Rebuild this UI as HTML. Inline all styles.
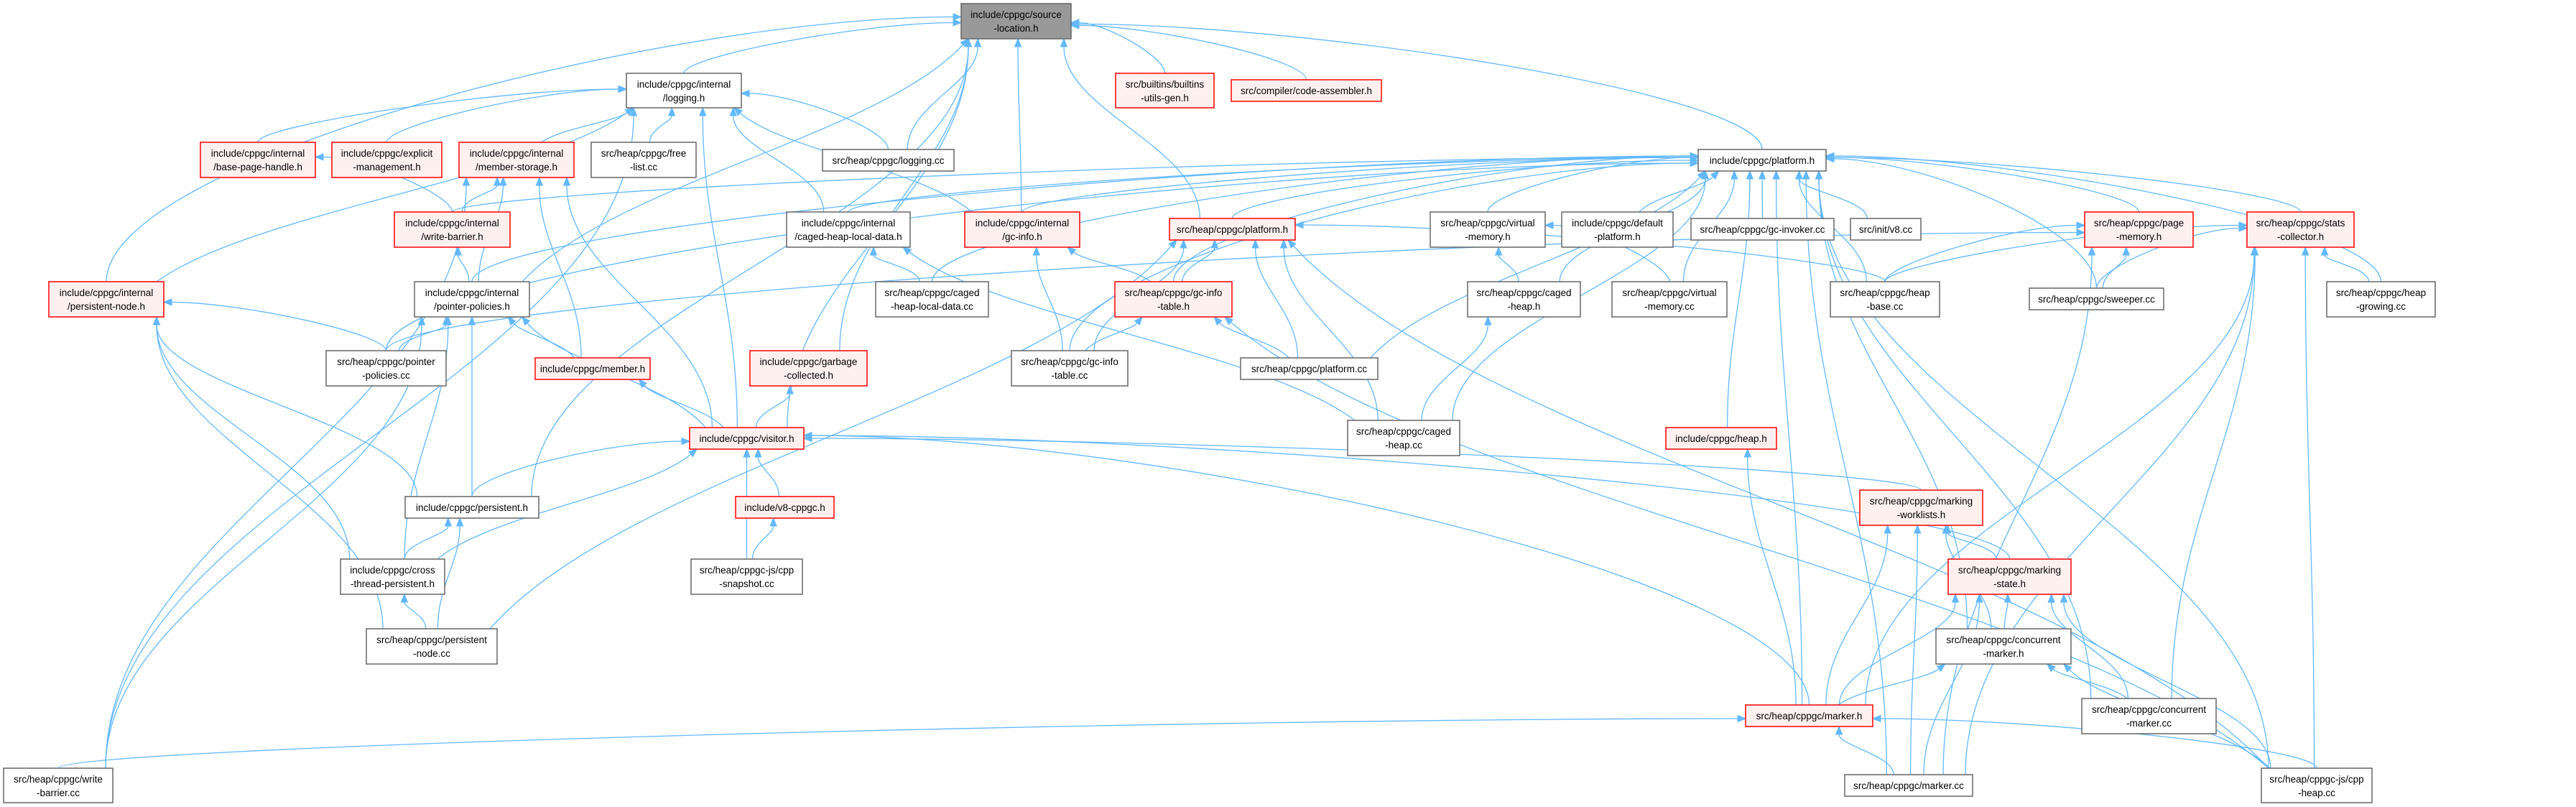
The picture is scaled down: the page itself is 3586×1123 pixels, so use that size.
<!DOCTYPE html>
<html><head><meta charset="utf-8">
<style>
html,body{margin:0;padding:0;background:#fff;}
svg{display:block;}
text{font-family:"Liberation Sans",sans-serif;font-size:13.5px;fill:#000;}
</style></head>
<body>
<svg id="g" width="3586" height="1123" viewBox="0 0 3586 1123" xmlns="http://www.w3.org/2000/svg">
<g id="edges" fill="none" stroke="#63b8ff" stroke-width="1.3"></g>
<g id="heads" fill="#63b8ff" stroke="#63b8ff"></g>
<g id="nodes" stroke-width="1.5">
<rect x="1338" y="5" width="153" height="49" fill="#999999" stroke="#666666"/><text x="1414.5" y="25" text-anchor="middle">include/cppgc/source</text><text x="1414.5" y="44" text-anchor="middle">-location.h</text>
<rect x="872" y="102" width="160" height="48" fill="#fff" stroke="#666666"/><text x="952" y="122" text-anchor="middle">include/cppgc/internal</text><text x="952" y="141" text-anchor="middle">/logging.h</text>
<rect x="1553" y="102" width="137" height="48" fill="#fff0f0" stroke="#ff0000"/><text x="1621.5" y="122" text-anchor="middle">src/builtins/builtins</text><text x="1621.5" y="141" text-anchor="middle">-utils-gen.h</text>
<rect x="1714" y="111" width="209" height="30" fill="#fff0f0" stroke="#ff0000"/><text x="1818.5" y="131" text-anchor="middle">src/compiler/code-assembler.h</text>
<rect x="279" y="198" width="160" height="49" fill="#fff0f0" stroke="#ff0000"/><text x="359" y="218" text-anchor="middle">include/cppgc/internal</text><text x="359" y="237" text-anchor="middle">/base-page-handle.h</text>
<rect x="462" y="198" width="153" height="49" fill="#fff0f0" stroke="#ff0000"/><text x="538.5" y="218" text-anchor="middle">include/cppgc/explicit</text><text x="538.5" y="237" text-anchor="middle">-management.h</text>
<rect x="639" y="198" width="160" height="49" fill="#fff0f0" stroke="#ff0000"/><text x="719" y="218" text-anchor="middle">include/cppgc/internal</text><text x="719" y="237" text-anchor="middle">/member-storage.h</text>
<rect x="823" y="198" width="146" height="49" fill="#fff" stroke="#666666"/><text x="896" y="218" text-anchor="middle">src/heap/cppgc/free</text><text x="896" y="237" text-anchor="middle">-list.cc</text>
<rect x="1145" y="208" width="183" height="30" fill="#fff" stroke="#666666"/><text x="1236.5" y="228" text-anchor="middle">src/heap/cppgc/logging.cc</text>
<rect x="2364" y="208" width="178" height="30" fill="#fff" stroke="#666666"/><text x="2453" y="228" text-anchor="middle">include/cppgc/platform.h</text>
<rect x="549" y="295" width="161" height="49" fill="#fff0f0" stroke="#ff0000"/><text x="629.5" y="315" text-anchor="middle">include/cppgc/internal</text><text x="629.5" y="334" text-anchor="middle">/write-barrier.h</text>
<rect x="1095" y="295" width="172" height="49" fill="#fff" stroke="#666666"/><text x="1181" y="315" text-anchor="middle">include/cppgc/internal</text><text x="1181" y="334" text-anchor="middle">/caged-heap-local-data.h</text>
<rect x="1343" y="295" width="160" height="49" fill="#fff0f0" stroke="#ff0000"/><text x="1423" y="315" text-anchor="middle">include/cppgc/internal</text><text x="1423" y="334" text-anchor="middle">/gc-info.h</text>
<rect x="1628" y="304" width="175" height="30" fill="#fff0f0" stroke="#ff0000"/><text x="1715.5" y="324" text-anchor="middle">src/heap/cppgc/platform.h</text>
<rect x="1991" y="295" width="160" height="49" fill="#fff" stroke="#666666"/><text x="2071" y="315" text-anchor="middle">src/heap/cppgc/virtual</text><text x="2071" y="334" text-anchor="middle">-memory.h</text>
<rect x="2174" y="295" width="155" height="49" fill="#fff" stroke="#666666"/><text x="2251.5" y="315" text-anchor="middle">include/cppgc/default</text><text x="2251.5" y="334" text-anchor="middle">-platform.h</text>
<rect x="2354" y="304" width="199" height="30" fill="#fff" stroke="#666666"/><text x="2453.5" y="324" text-anchor="middle">src/heap/cppgc/gc-invoker.cc</text>
<rect x="2576" y="304" width="98" height="30" fill="#fff" stroke="#666666"/><text x="2625" y="324" text-anchor="middle">src/init/v8.cc</text>
<rect x="2902" y="295" width="151" height="49" fill="#fff0f0" stroke="#ff0000"/><text x="2977.5" y="315" text-anchor="middle">src/heap/cppgc/page</text><text x="2977.5" y="334" text-anchor="middle">-memory.h</text>
<rect x="3128" y="295" width="149" height="49" fill="#fff0f0" stroke="#ff0000"/><text x="3202.5" y="315" text-anchor="middle">src/heap/cppgc/stats</text><text x="3202.5" y="334" text-anchor="middle">-collector.h</text>
<rect x="68" y="392" width="160" height="49" fill="#fff0f0" stroke="#ff0000"/><text x="148" y="412" text-anchor="middle">include/cppgc/internal</text><text x="148" y="431" text-anchor="middle">/persistent-node.h</text>
<rect x="577" y="392" width="160" height="49" fill="#fff" stroke="#666666"/><text x="657" y="412" text-anchor="middle">include/cppgc/internal</text><text x="657" y="431" text-anchor="middle">/pointer-policies.h</text>
<rect x="1219" y="392" width="157" height="49" fill="#fff" stroke="#666666"/><text x="1297.5" y="412" text-anchor="middle">src/heap/cppgc/caged</text><text x="1297.5" y="431" text-anchor="middle">-heap-local-data.cc</text>
<rect x="1552" y="392" width="163" height="49" fill="#fff0f0" stroke="#ff0000"/><text x="1633.5" y="412" text-anchor="middle">src/heap/cppgc/gc-info</text><text x="1633.5" y="431" text-anchor="middle">-table.h</text>
<rect x="2043" y="392" width="157" height="49" fill="#fff" stroke="#666666"/><text x="2121.5" y="412" text-anchor="middle">src/heap/cppgc/caged</text><text x="2121.5" y="431" text-anchor="middle">-heap.h</text>
<rect x="2244" y="392" width="160" height="49" fill="#fff" stroke="#666666"/><text x="2324" y="412" text-anchor="middle">src/heap/cppgc/virtual</text><text x="2324" y="431" text-anchor="middle">-memory.cc</text>
<rect x="2548" y="392" width="152" height="49" fill="#fff" stroke="#666666"/><text x="2624" y="412" text-anchor="middle">src/heap/cppgc/heap</text><text x="2624" y="431" text-anchor="middle">-base.cc</text>
<rect x="2825" y="401" width="187" height="30" fill="#fff" stroke="#666666"/><text x="2918.5" y="421" text-anchor="middle">src/heap/cppgc/sweeper.cc</text>
<rect x="3239" y="392" width="151" height="49" fill="#fff" stroke="#666666"/><text x="3314.5" y="412" text-anchor="middle">src/heap/cppgc/heap</text><text x="3314.5" y="431" text-anchor="middle">-growing.cc</text>
<rect x="454" y="488" width="167" height="49" fill="#fff" stroke="#666666"/><text x="537.5" y="508" text-anchor="middle">src/heap/cppgc/pointer</text><text x="537.5" y="527" text-anchor="middle">-policies.cc</text>
<rect x="745" y="498" width="160" height="30" fill="#fff0f0" stroke="#ff0000"/><text x="825" y="518" text-anchor="middle">include/cppgc/member.h</text>
<rect x="1044" y="488" width="163" height="49" fill="#fff0f0" stroke="#ff0000"/><text x="1125.5" y="508" text-anchor="middle">include/cppgc/garbage</text><text x="1125.5" y="527" text-anchor="middle">-collected.h</text>
<rect x="1408" y="488" width="162" height="49" fill="#fff" stroke="#666666"/><text x="1489" y="508" text-anchor="middle">src/heap/cppgc/gc-info</text><text x="1489" y="527" text-anchor="middle">-table.cc</text>
<rect x="1727" y="498" width="191" height="30" fill="#fff" stroke="#666666"/><text x="1822.5" y="518" text-anchor="middle">src/heap/cppgc/platform.cc</text>
<rect x="1876" y="585" width="156" height="49" fill="#fff" stroke="#666666"/><text x="1954" y="605" text-anchor="middle">src/heap/cppgc/caged</text><text x="1954" y="624" text-anchor="middle">-heap.cc</text>
<rect x="960" y="595" width="159" height="30" fill="#fff0f0" stroke="#ff0000"/><text x="1039.5" y="615" text-anchor="middle">include/cppgc/visitor.h</text>
<rect x="2319" y="595" width="154" height="30" fill="#fff0f0" stroke="#ff0000"/><text x="2396" y="615" text-anchor="middle">include/cppgc/heap.h</text>
<rect x="564" y="691" width="186" height="30" fill="#fff" stroke="#666666"/><text x="657" y="711" text-anchor="middle">include/cppgc/persistent.h</text>
<rect x="1024" y="691" width="137" height="30" fill="#fff0f0" stroke="#ff0000"/><text x="1092.5" y="711" text-anchor="middle">include/v8-cppgc.h</text>
<rect x="2589" y="682" width="171" height="49" fill="#fff0f0" stroke="#ff0000"/><text x="2674.5" y="702" text-anchor="middle">src/heap/cppgc/marking</text><text x="2674.5" y="721" text-anchor="middle">-worklists.h</text>
<rect x="474" y="778" width="145" height="49" fill="#fff" stroke="#666666"/><text x="546.5" y="798" text-anchor="middle">include/cppgc/cross</text><text x="546.5" y="817" text-anchor="middle">-thread-persistent.h</text>
<rect x="962" y="778" width="155" height="49" fill="#fff" stroke="#666666"/><text x="1039.5" y="798" text-anchor="middle">src/heap/cppgc-js/cpp</text><text x="1039.5" y="817" text-anchor="middle">-snapshot.cc</text>
<rect x="2712" y="778" width="171" height="49" fill="#fff0f0" stroke="#ff0000"/><text x="2797.5" y="798" text-anchor="middle">src/heap/cppgc/marking</text><text x="2797.5" y="817" text-anchor="middle">-state.h</text>
<rect x="510" y="875" width="182" height="49" fill="#fff" stroke="#666666"/><text x="601" y="895" text-anchor="middle">src/heap/cppgc/persistent</text><text x="601" y="914" text-anchor="middle">-node.cc</text>
<rect x="2695" y="875" width="188" height="49" fill="#fff" stroke="#666666"/><text x="2789" y="895" text-anchor="middle">src/heap/cppgc/concurrent</text><text x="2789" y="914" text-anchor="middle">-marker.h</text>
<rect x="2898" y="972" width="187" height="49" fill="#fff" stroke="#666666"/><text x="2991.5" y="992" text-anchor="middle">src/heap/cppgc/concurrent</text><text x="2991.5" y="1011" text-anchor="middle">-marker.cc</text>
<rect x="2430" y="981" width="177" height="30" fill="#fff0f0" stroke="#ff0000"/><text x="2518.5" y="1001" text-anchor="middle">src/heap/cppgc/marker.h</text>
<rect x="5" y="1069" width="152" height="48" fill="#fff" stroke="#666666"/><text x="81" y="1089" text-anchor="middle">src/heap/cppgc/write</text><text x="81" y="1108" text-anchor="middle">-barrier.cc</text>
<rect x="2568" y="1078" width="178" height="30" fill="#fff" stroke="#666666"/><text x="2657" y="1098" text-anchor="middle">src/heap/cppgc/marker.cc</text>
<rect x="3148" y="1069" width="154" height="48" fill="#fff" stroke="#666666"/><text x="3225" y="1089" text-anchor="middle">src/heap/cppgc-js/cpp</text><text x="3225" y="1108" text-anchor="middle">-heap.cc</text>
</g>
</svg>
<script>
var N={
SL:[1338,5,1491,54],LOGH:[872,102,1032,150],BUILT:[1553,102,1690,150],CODEA:[1714,111,1923,141],
BPH:[279,198,439,247],EXPL:[462,198,615,247],MSTOR:[639,198,799,247],FREE:[823,198,969,247],
LOGCC:[1145,208,1328,238],IP:[2364,208,2542,238],WB:[549,295,710,344],CHLD:[1095,295,1267,344],
GCI:[1343,295,1503,344],SPH:[1628,304,1803,334],VMH:[1991,295,2151,344],DEFP:[2174,295,2329,344],
GCINV:[2354,304,2553,334],V8CC:[2576,304,2674,334],PAGEM:[2902,295,3053,344],STATS:[3128,295,3277,344],
PNH:[68,392,228,441],PPH:[577,392,737,441],CHLDCC:[1219,392,1376,441],GCIT:[1552,392,1715,441],
CAGEDH:[2043,392,2200,441],VMCC:[2244,392,2404,441],HBCC:[2548,392,2700,441],SWEEP:[2825,401,3012,431],
HGROW:[3239,392,3390,441],PPCC:[454,488,621,537],MEMBER:[745,498,905,528],GCOL:[1044,488,1207,537],
GCITCC:[1408,488,1570,537],PLATCC:[1727,498,1918,528],CHCC:[1876,585,2032,634],VIS:[960,595,1119,625],
HEAPH:[2319,595,2473,625],PERS:[564,691,750,721],V8CPPGC:[1024,691,1161,721],MWL:[2589,682,2760,731],
CTP:[474,778,619,827],SNAP:[962,778,1117,827],MST:[2712,778,2883,827],PNCC:[510,875,692,924],
CMH:[2695,875,2883,924],CMCC:[2898,972,3085,1021],MARKH:[2430,981,2607,1011],WBCC:[5,1069,157,1117],
MARKCC:[2568,1078,2746,1108],CPPHEAP:[3148,1069,3302,1117]};
var E=[
"LOGH SL","PNH SL","BUILT SL","CODEA SL","LOGCC SL","IP SL","SPH SL","GCOL SL","PPH SL","PERS SL","VIS SL","GCI SL",
"BPH LOGH","EXPL LOGH","MSTOR LOGH","FREE LOGH","LOGCC LOGH","CHLD LOGH","GCI LOGH","VIS LOGH","PNH LOGH","WBCC LOGH",
"WB IP","PPH IP","CHLD IP","GCI IP","SPH IP","CHLDCC IP","GCIT IP","GCITCC IP","PLATCC IP","VMH IP","DEFP IP","GCINV IP","V8CC IP",
"CAGEDH IP","VMCC IP","HBCC IP","PAGEM IP","STATS IP","SWEEP IP","HGROW IP","HEAPH IP","MARKH IP","CMH IP","CMCC IP","CPPHEAP IP","MARKCC IP","CHCC IP","PPCC IP",
"WB MSTOR","PPH MSTOR","MEMBER MSTOR","VIS MSTOR","WBCC MSTOR","WB BPH","PPH WB",
"PPCC PPH","MEMBER PPH","PERS PPH","CTP PPH","VIS PPH","WBCC PPH",
"PPCC PNH","PERS PNH","CTP PNH","PNCC PNH",
"VIS MEMBER","VIS GCOL","PERS VIS","CTP VIS","V8CPPGC VIS","SNAP VIS","MARKH VIS","MWL VIS","MST VIS",
"CTP PERS","PNCC PERS","PNCC CTP","SNAP V8CPPGC",
"CHLDCC CHLD","CHCC CHLD","GCIT GCI","GCITCC GCI",
"GCIT SPH","GCITCC SPH","PLATCC SPH","CHCC SPH","HBCC SPH","CPPHEAP SPH","PNCC SPH",
"GCITCC GCIT","PLATCC GCIT","CPPHEAP GCIT",
"CAGEDH VMH","VMCC VMH","CHCC CAGEDH",
"HBCC PAGEM","SWEEP PAGEM","MARKCC PAGEM","PPCC PAGEM",
"HBCC STATS","SWEEP STATS","HGROW STATS","MARKH STATS","MARKCC STATS","CMCC STATS","CPPHEAP STATS",
"MARKH HEAPH",
"MST MWL","MARKH MWL","CMH MWL","MARKCC MWL",
"CMH MST","MARKH MST","MARKCC MST","CMCC MST","CPPHEAP MST",
"MARKH CMH","CMCC CMH","CPPHEAP CMH",
"MARKCC MARKH","CPPHEAP MARKH","WBCC MARKH"];
var ge=document.getElementById('edges'),gh=document.getElementById('heads'),ns='http://www.w3.org/2000/svg';
E.forEach(function(e){
 var p=e.split(' '),s=N[p[0]],t=N[p[1]];
 var scx=(s[0]+s[2])/2, sx, sy, ex, ey, c1x,c1y,c2x,c2y;
 var tcx=(t[0]+t[2])/2, tcy=(t[1]+t[3])/2;
 var dyv=s[1]-t[3];
 var thr=(p[1]=="IP"||p[1]=="SL")?2.2:3.5;
 var sameRow = s[1] <= t[3]+5 && s[3] >= t[1]-5;
 if(sameRow){
   if(scx<tcx){sx=s[2];ex=t[0];}else{sx=s[0];ex=t[2];}
   sy=(s[1]+s[3])/2; ey=tcy;
   c1x=sx+(ex-sx)*0.4;c1y=sy;c2x=ex-(ex-sx)*0.4;c2y=ey;
 } else if(scx < t[0] && (t[0]-scx) > thr*dyv){
   sx=scx; sy=s[1]; ex=t[0]; ey=tcy+((s[1]%7)-3)*2;
   c1x=sx;c1y=sy-dyv*0.5;c2x=ex-(ex-sx)*0.35;c2y=ey;
 } else if(scx > t[2] && (scx-t[2]) > thr*dyv){
   sx=scx; sy=s[1]; ex=t[2]; ey=tcy+((s[1]%7)-3)*2;
   c1x=sx;c1y=sy-dyv*0.5;c2x=ex+(sx-ex)*0.35;c2y=ey;
 } else {
   sx=Math.max(s[0]+10,Math.min(s[2]-10,scx+(tcx-scx)*0.15));
   sy=s[1];
   ex=Math.max(t[0]+10,Math.min(t[2]-10,tcx+(scx-tcx)*0.3));
   ey=t[3];
   c1x=sx;c1y=sy-dyv*0.4;c2x=ex;c2y=ey+dyv*0.4;
   if(Math.abs(ex-sx)>1.5*dyv){c1x=sx+(ex-sx)*0.2;c2x=ex-(ex-sx)*0.2;}
 }
 var dx=ex-c2x,dy=ey-c2y,L=Math.sqrt(dx*dx+dy*dy)||1;dx/=L;dy/=L;
 var hl=11,hw=4.5;
 var bx=ex-dx*hl,by=ey-dy*hl;
 var path=document.createElementNS(ns,'path');
 path.setAttribute('d','M'+sx+','+sy+' C'+c1x+','+c1y+' '+c2x+','+c2y+' '+bx+','+by);
 ge.appendChild(path);
 var poly=document.createElementNS(ns,'polygon');
 poly.setAttribute('points',ex+','+ey+' '+(bx-dy*hw)+','+(by+dx*hw)+' '+(bx+dy*hw)+','+(by-dx*hw));
 gh.appendChild(poly);
});
</script>
</body></html>
